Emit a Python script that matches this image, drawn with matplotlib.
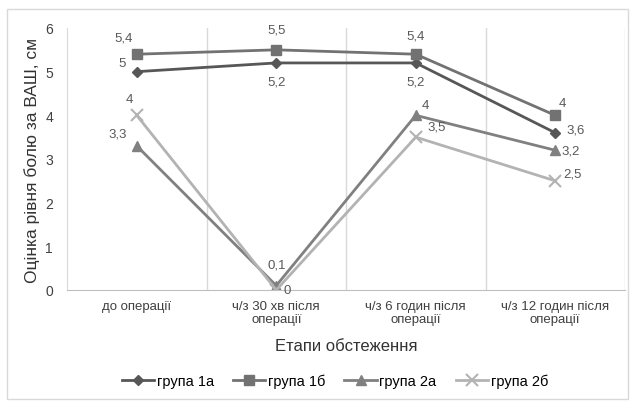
import matplotlib
matplotlib.use("Agg")
import matplotlib.pyplot as plt
from matplotlib.patches import Rectangle

# дані
stages = ["до операції", "ч/з 30 хв після\nоперації", "ч/з 6 годин після\nоперації",
          "ч/з 12 годин після\nоперації"]
g1a = [5, 5.2, 5.2, 3.6]
g1b = [5.4, 5.5, 5.4, 4]
g2a = [3.3, 0.1, 4, 3.2]
g2b = [4, 0, 3.5, 2.5]
names = ["група 1а", "група 1б", "група 2а", "група 2б"]

plt.rcParams['font.family'] = ["Liberation Sans", "DejaVu Sans"]

fig = plt.figure(figsize=(6.35, 4.1), dpi=100)
ax = fig.add_axes([67/635, 1-291/410, (625-67)/635, (291-29)/410])

x = range(len(stages))
series = [g1a, g1b, g2a, g2b]
colors = ["#575757", "#727272", "#808080", "#b3b3b3"]
markers = ["D", "s", "^", "x"]
msizes = [5.5, 7, 7, 8]
for vals, c, m, ms, nm in zip(series, colors, markers, msizes, names):
    ax.plot(x, vals, color=c, marker=m, markersize=ms, lw=2, label=nm,
            markeredgewidth=1.5 if m == "x" else 1)

# підписи значень (зсуви в пікселях)
offs = {
    0: [(-15, 9), (0, -19), (0, -19), (20, 3)],
    1: [(-13, 17), (0, 20), (0, 19), (7, 12)],
    2: [(-19, 12), (0, 21), (10, 10), (15, 0)],
    3: [(-7, 16), (11, 0), (21, 11), (17, 7)],
}
for si, vals in enumerate(series):
    for i, v in enumerate(vals):
        txt = ("%g" % v).replace(".", ",")
        dx, dy = offs[si][i]
        ax.annotate(txt, (i, v), xytext=(dx, dy), textcoords="offset pixels",
                    ha="center", va="center", fontsize=9.5, color="#595959")

ax.set_xlim(-0.5, 3.5)
ax.set_ylim(0, 6)
ax.set_yticks(range(7))
ax.set_xticks(x)
ax.set_xticklabels(stages, fontsize=9.5, color="#404040", linespacing=1.15)
ax.tick_params(axis="y", labelsize=10, labelcolor="#404040", length=0, pad=10)
ax.tick_params(axis="x", length=0, pad=7)
ax.set_xticks([0.5, 1.5, 2.5, 3.5], minor=True)
ax.tick_params(axis="x", which="minor", length=0)
ax.grid(axis="x", which="minor", color="#d9d9d9", lw=1)
ax.grid(axis="x", which="major", visible=False)
for s in ["top", "right"]:
    ax.spines[s].set_visible(False)
ax.spines["left"].set_color("#d9d9d9")
ax.spines["bottom"].set_color("#bfbfbf")

ax.set_ylabel("Оцінка рівня болю за ВАШ, см", fontsize=12.5, color="#333333", labelpad=4)
ax.set_xlabel("Етапи обстеження", fontsize=12, color="#333333", labelpad=9)

fig.legend(loc="center", bbox_to_anchor=(335/635, 1-382/410), ncol=4, frameon=False,
           fontsize=10.5, handlelength=2.2, columnspacing=1.3, handletextpad=0.2)

fig.patches.append(Rectangle((7/635, 1-400/410), 621/635, 390/410,
                             transform=fig.transFigure, fill=False,
                             edgecolor="#d9d9d9", lw=1))

fig.savefig("out.png", dpi=100, facecolor="white")
